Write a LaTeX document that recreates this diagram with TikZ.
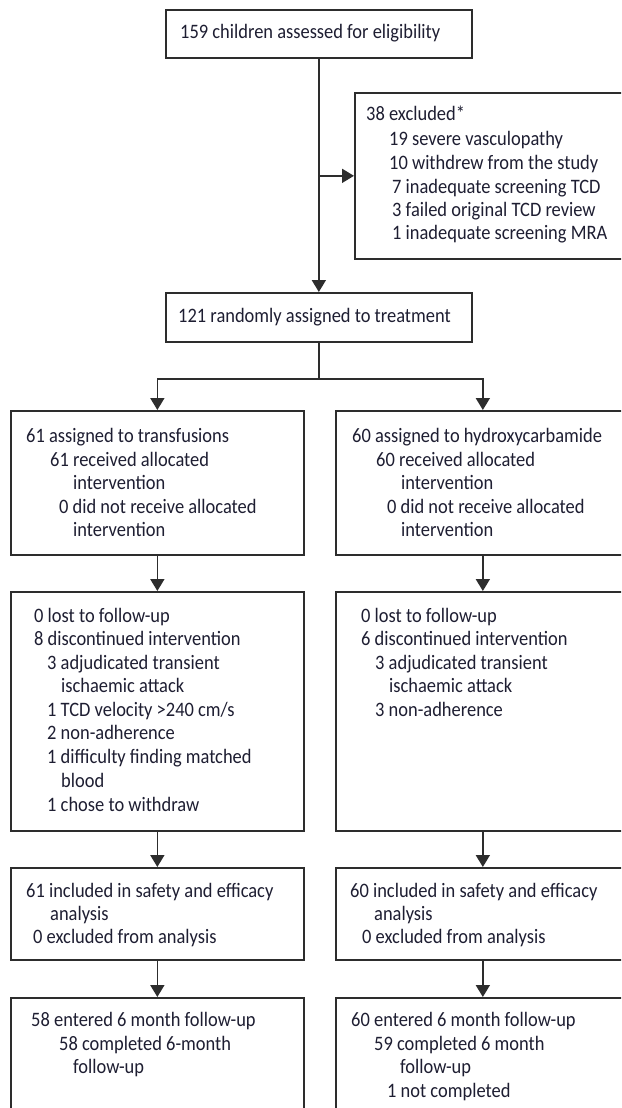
\documentclass[tikz,border=0pt]{standalone}
\usepackage{fontspec}
\setmainfont[FakeStretch=0.9]{Carlito}
\usetikzlibrary{arrows.meta,calc}
\definecolor{linec}{RGB}{45,45,45}
\definecolor{textc}{RGB}{30,30,50}
\tikzset{
  box/.style={draw=linec, line width=1.7pt, rectangle, inner sep=0pt, anchor=north west},
  txt/.style={anchor=base west, inner sep=0pt, text=textc, font=\fontsize{20.5}{24}\selectfont},
  arr/.style={draw=linec, line width=1.7pt, -{Triangle[length=12pt,width=14pt]}},
  conn/.style={draw=linec, line width=1.7pt}
}
\begin{document}
\begin{tikzpicture}[x=1pt,y=-1pt]
\clip (0,0) rectangle (621,1108);
\fill[white] (0,0) rectangle (621,1108);
% boxes
\node[box, minimum width=306pt, minimum height=48pt] (n1) at (165,9) {};
\node[box, minimum width=290pt, minimum height=166pt] (ex) at (354,92) {};
\node[box, minimum width=306pt, minimum height=49pt] (n2) at (165,292) {};
\node[box, minimum width=293pt, minimum height=144pt] (L1) at (10,410) {};
\node[box, minimum width=294pt, minimum height=144pt] (R1) at (335,410) {};
\node[box, minimum width=293pt, minimum height=239pt] (L2) at (10,591) {};
\node[box, minimum width=294pt, minimum height=239pt] (R2) at (335,591) {};
\node[box, minimum width=293pt, minimum height=92pt] (L3) at (10,867) {};
\node[box, minimum width=294pt, minimum height=92pt] (R3) at (335,867) {};
\node[box, minimum width=293pt, minimum height=140pt] (L4) at (10,997) {};
\node[box, minimum width=294pt, minimum height=140pt] (R4) at (335,997) {};
% connectors
\draw[arr] (n1.south) -- (n2.north);
\coordinate (j1) at (n1.south |- ex.west);
\draw[arr] (j1) -- (ex.west);
\coordinate (s) at ($(n2.south)+(0,36)$);
\draw[conn] (n2.south) -- (s);
\draw[arr] (s) -| (L1.north);
\draw[arr] (s) -| (R1.north);
\draw[arr] (L1.south) -- (L2.north);
\draw[arr] (R1.south) -- (R2.north);
\draw[arr] (L2.south) -- (L3.north);
\draw[arr] (R2.south) -- (R3.north);
\draw[arr] (L3.south) -- (L4.north);
\draw[arr] (R3.south) -- (R4.north);
% texts
\node[txt] (t1) at (180,39) {159 children assessed for eligibility};
\node[txt] (e1) at (366,120) {38 excluded*};
\node[txt] (e2) at (389,145) {19 severe vasculopathy};
\node[txt] (e3) at (389,169) {10 withdrew from the study};
\node[txt] (e4) at (392,193) {7 inadequate screening TCD};
\node[txt] (e5) at (392,216) {3 failed original TCD review};
\node[txt] (e6) at (392,239) {1 inadequate screening MRA};
\node[txt] (t2) at (178,322) {121 randomly assigned to treatment};
\node[txt] (l1a) at (26,442) {61 assigned to transfusions};
\node[txt] (l1b) at (50,466) {61 received allocated};
\node[txt] (l1c) at (73,489) {intervention};
\node[txt] (l1d) at (59,513) {0 did not receive allocated};
\node[txt] (l1e) at (73,536) {intervention};
\node[txt] (r1a) at (352,442) {60 assigned to hydroxycarbamide};
\node[txt] (r1b) at (376,466) {60 received allocated};
\node[txt] (r1c) at (401,489) {intervention};
\node[txt] (r1d) at (387,513) {0 did not receive allocated};
\node[txt] (r1e) at (401,536) {intervention};
\node[txt] (l2a) at (34,622) {0 lost to follow-up};
\node[txt] (l2b) at (34,645) {8 discontinued intervention};
\node[txt] (l2c) at (47,669) {3 adjudicated transient};
\node[txt] (l2d) at (61,692) {ischaemic attack};
\node[txt] (l2e) at (47,716) {1 TCD velocity >240 cm/s};
\node[txt] (l2f) at (47,739) {2 non-adherence};
\node[txt] (l2g) at (47,763) {1 difficulty finding matched};
\node[txt] (l2h) at (61,787) {blood};
\node[txt] (l2i) at (47,811) {1 chose to withdraw};
\node[txt] (r2a) at (361,622) {0 lost to follow-up};
\node[txt] (r2b) at (361,645) {6 discontinued intervention};
\node[txt] (r2c) at (375,669) {3 adjudicated transient};
\node[txt] (r2d) at (389,692) {ischaemic attack};
\node[txt] (r2e) at (375,716) {3 non-adherence};
\node[txt] (l3a) at (26,897) {61 included in safety and efficacy};
\node[txt] (l3b) at (50,920) {analysis};
\node[txt] (l3c) at (33,943) {0 excluded from analysis};
\node[txt] (r3a) at (350,897) {60 included in safety and efficacy};
\node[txt] (r3b) at (374,920) {analysis};
\node[txt] (r3c) at (362,943) {0 excluded from analysis};
\node[txt] (l4a) at (31,1026) {58 entered 6 month follow-up};
\node[txt] (l4b) at (59,1050) {58 completed 6-month};
\node[txt] (l4c) at (73,1073) {follow-up};
\node[txt] (r4a) at (351,1026) {60 entered 6 month follow-up};
\node[txt] (r4b) at (374,1050) {59 completed 6 month};
\node[txt] (r4c) at (400,1073) {follow-up};
\node[txt] (r4d) at (387,1097) {1 not completed};
\end{tikzpicture}
\end{document}
